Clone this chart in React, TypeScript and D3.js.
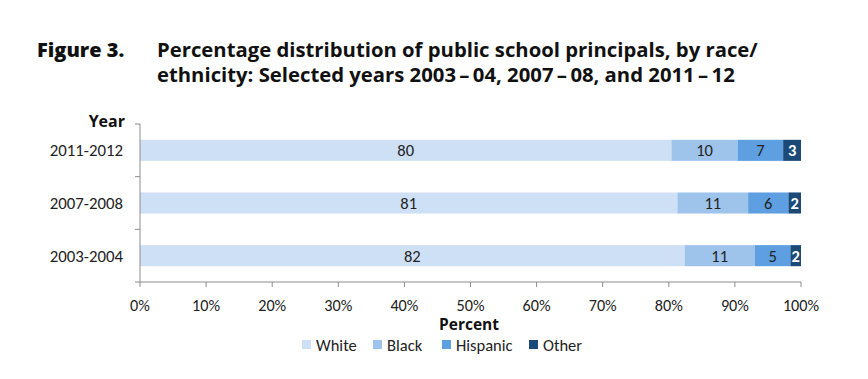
import React from "react";
import * as d3 from "d3";

const years = ["2011-2012", "2007-2008", "2003-2004"];
const seriesNames = ["White", "Black", "Hispanic", "Other"];
const white = [80.4, 81.3, 82.4];
const black = [10.0, 10.7, 10.6];
const hispanic = [6.9, 6.1, 5.4];
const other = [2.7, 1.9, 1.6];
const labels = [
  ["80", "10", "7", "3"],
  ["81", "11", "6", "2"],
  ["82", "11", "5", "2"],
];
const xTicks = [0, 10, 20, 30, 40, 50, 60, 70, 80, 90, 100];
const colors = ["#cee0f5", "#9ec4ec", "#5d9fe1", "#1b4a78"];

const W = 868, H = 379;
const left = 140, right = 801, top = 124, bottom = 282;
const labelFont = "Carlito, Lato, 'Open Sans', sans-serif";
const titleFont = "'Open Sans', sans-serif";
const ts = "\u2009\u2013\u2009";

export default function App() {
  const x = d3.scaleLinear().domain([0, 100]).range([left, right]);
  const y = d3.scaleBand().domain(years).range([top, bottom]).paddingInner(0.6).paddingOuter(0.3);
  const rows = years.map((yr, i) => ({ year: yr, White: white[i], Black: black[i], Hispanic: hispanic[i], Other: other[i] }));
  const stack = d3.stack<any>().keys(seriesNames)(rows);
  const bandStep = (bottom - top) / years.length;

  return (
    <svg width={W} height={H} style={{ position: "absolute", left: 0, top: 0, background: "#fff" }}>
      <text x={37} y={57} fontFamily={titleFont} fontWeight={800} fontSize={20} fill="#111">Figure 3.</text>
      <text x={157} y={57} fontFamily={titleFont} fontWeight={700} fontSize={20.3} fill="#111">Percentage distribution of public school principals, by race/</text>
      <text x={157} y={82} fontFamily={titleFont} fontWeight={700} fontSize={20.3} fill="#111">{`ethnicity: Selected years 2003${ts}04, 2007${ts}08, and 2011${ts}12`}</text>

      <text x={125} y={127} textAnchor="end" fontFamily={titleFont} fontWeight={700} fontSize={16} fill="#111">Year</text>

      {stack.map((s, si) =>
        s.map((d, i) => (
          <rect key={`${si}-${i}`} x={x(d[0])} y={y(years[i])!} width={x(d[1]) - x(d[0])} height={y.bandwidth()} fill={colors[si]} />
        ))
      )}
      {stack.map((s, si) =>
        s.map((d, i) => (
          <text key={`l${si}-${i}`} x={(x(d[0]) + x(d[1])) / 2} y={y(years[i])! + y.bandwidth() / 2 + 6}
            textAnchor="middle" fontFamily={labelFont} fontSize={16.5} fill={si === 3 ? "#fff" : "#222"} fontWeight={si === 3 ? 700 : 400}>
            {labels[i][si]}
          </text>
        ))
      )}

      {/* y axis */}
      <line x1={left} x2={left} y1={top} y2={bottom} stroke="#8c8c8c" />
      {d3.range(years.length + 1).map((k) => (
        <line key={`yt${k}`} x1={left - 5} x2={left} y1={top + k * bandStep} y2={top + k * bandStep} stroke="#8c8c8c" />
      ))}
      {years.map((yr) => (
        <text key={yr} x={123} y={y(yr)! + y.bandwidth() / 2 + 6} textAnchor="end" fontFamily={labelFont} fontSize={16.8} fill="#222">{yr}</text>
      ))}

      {/* x axis */}
      <line x1={left} x2={right} y1={bottom} y2={bottom} stroke="#8c8c8c" />
      {xTicks.map((t) => (
        <g key={`xt${t}`}>
          <line x1={x(t)} x2={x(t)} y1={bottom} y2={bottom + 5} stroke="#8c8c8c" />
          <text x={x(t)} y={311} textAnchor="middle" fontFamily={labelFont} fontSize={16.2} fill="#222">{t}%</text>
        </g>
      ))}
      <text x={469} y={330} textAnchor="middle" fontFamily={titleFont} fontWeight={700} fontSize={15.5} fill="#111">Percent</text>

      {/* legend */}
      {seriesNames.map((n, i) => {
        const lx = [302, 373, 442, 529][i];
        return (
          <g key={n}>
            <rect x={lx} y={340} width={9} height={9} fill={colors[i]} />
            <text x={lx + 14} y={351} fontFamily={labelFont} fontSize={16.5} fill="#222">{n}</text>
          </g>
        );
      })}
    </svg>
  );
}
